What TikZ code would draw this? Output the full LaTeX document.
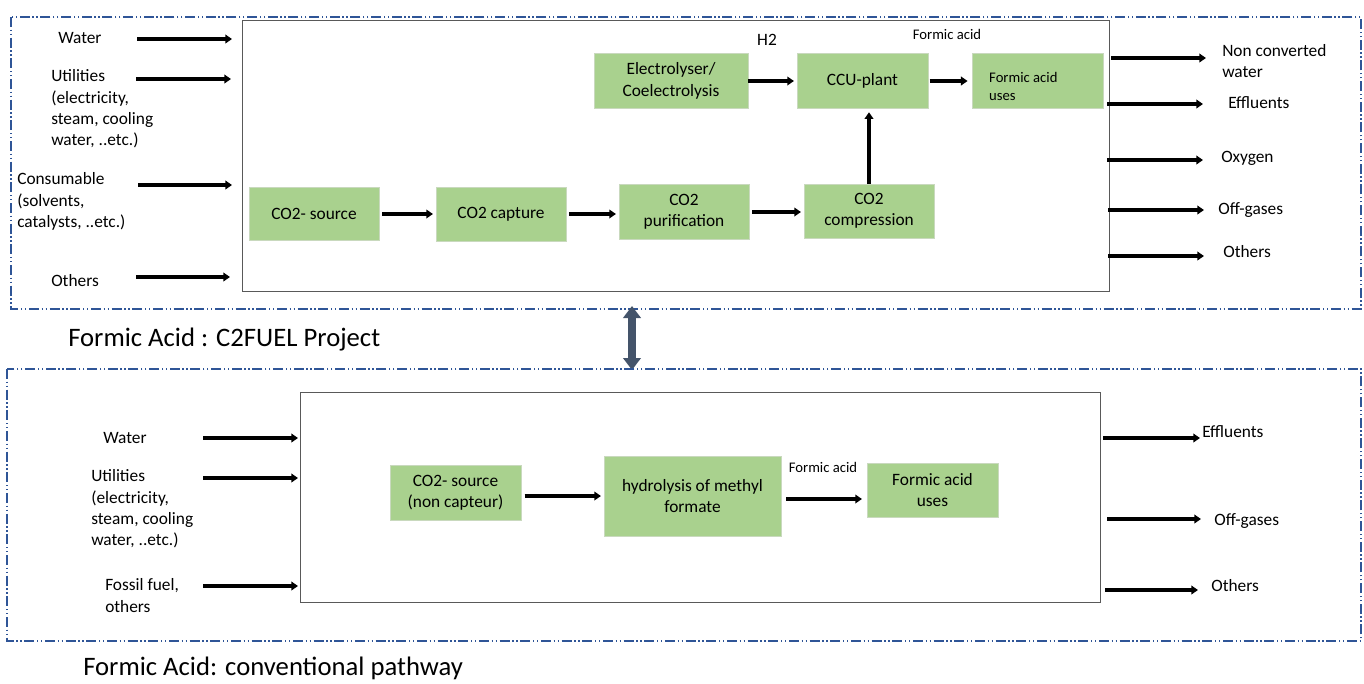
\documentclass[tikz,border=0pt]{standalone}
\usepackage{fontspec}
\setmainfont{Carlito}
\usetikzlibrary{arrows.meta}
\definecolor{frameblue}{HTML}{2F5597}
\definecolor{boxgreen}{HTML}{A9D18E}
\definecolor{boxedge}{HTML}{C9D9BE}
\definecolor{plantgray}{HTML}{595959}
\definecolor{slateblue}{HTML}{44546A}
\begin{document}
\begin{tikzpicture}[x=0.75pt,y=-0.75pt,
  lbl/.style={font=\fontsize{13}{16}\selectfont, align=left, inner sep=0pt},
  small/.style={font=\fontsize{11}{13}\selectfont, inner sep=0pt},
  title/.style={font=\fontsize{20}{24}\selectfont, inner sep=0pt, anchor=west},
  gbox/.style={fill=boxgreen, draw=boxedge, line width=0.6pt, align=center,
    inner sep=0pt, font=\fontsize{13}{16}\selectfont},
  flow/.style={line width=2.6pt, -{Triangle[length=5pt,width=6.5pt]}},
  frame/.style={draw=frameblue, line width=0.8pt,
    dash pattern=on 7.5pt off 2pt on 1pt off 2pt on 1pt off 2pt},
  plant/.style={draw=plantgray, line width=0.7pt},
  dbl/.style={draw=slateblue, line width=5.5pt,
    {Triangle[length=9pt,width=13pt]}-{Triangle[length=9pt,width=13pt]}}]
\useasboundingbox (0,0) rectangle (1364,683);

% ---------- TOP ----------
\draw[frame] (11,17) rectangle (1361,309);
\draw[plant] (242,20) rectangle (1109,291);

% inputs
\node[lbl, anchor=west] (tWater) at (58,38) {Water};
\node[lbl, anchor=west] (tUtil) at (51,109) {Utilities\\(electricity,\\steam, cooling\\water, ..etc.)};
\node[lbl, anchor=west] (tCons) at (17,201.5) {Consumable\\(solvents,\\catalysts, ..etc.)};
\node[lbl, anchor=west] (tOth) at (51,281) {Others};
\coordinate (ti1a) at (137,39);  \coordinate (ti1b) at (232,39);
\coordinate (ti2a) at (136,79);  \coordinate (ti2b) at (231,79);
\coordinate (ti3a) at (138,185); \coordinate (ti3b) at (232,185);
\coordinate (ti4a) at (136,277); \coordinate (ti4b) at (230,277);
\draw[flow] (ti1a) -- (ti1b);
\draw[flow] (ti2a) -- (ti2b);
\draw[flow] (ti3a) -- (ti3b);
\draw[flow] (ti4a) -- (ti4b);

% process boxes
\node[gbox, minimum width=97.5pt, minimum height=39.75pt] (src) at (314,214) {CO2- source};
\node[gbox, minimum width=97.5pt, minimum height=40.5pt] (cap) at (501,214) {CO2 capture};
\node[gbox, minimum width=97.5pt, minimum height=41.25pt] (pur) at (684,212) {CO2\\purification};
\node[gbox, minimum width=97.5pt, minimum height=40.5pt] (comp) at (869,211) {CO2\\compression};
\node[gbox, minimum width=115.5pt, minimum height=41.25pt] (ely) at (671,81) {Electrolyser/\\Coelectrolysis};
\node[gbox, minimum width=98.25pt, minimum height=41.25pt] (ccu) at (862.5,81) {CCU-plant};
\node[gbox, minimum width=98.25pt, minimum height=41.25pt] (fau) at (1037.5,81) {};
\node[font=\fontsize{11}{13.5}\selectfont, align=left, inner sep=0pt, anchor=west] (fautxt) at ([xshift=13pt, yshift=-4pt]fau.west) {Formic acid\\uses};

\draw[flow, shorten <=2pt, shorten >=2pt] (src.east) -- (src.east -| cap.west);
\draw[flow, shorten <=2pt, shorten >=2pt] (cap.east) -- (cap.east -| pur.west);
\draw[flow, shorten <=2pt, shorten >=2pt] (pur.east) -- (pur.east -| comp.west);
\draw[flow, shorten >=2.5pt] (comp.north) -- (comp.north |- ccu.south);
\draw[flow, shorten >=2pt] (ely.east) -- (ely.east -| ccu.west);
\draw[flow, shorten <=1pt, shorten >=3pt] (ccu.east) -- (ccu.east -| fau.west);

\node[lbl] (h2) at (767,40) {H2};
\node[small] (falbl1) at (947,34) {Formic acid};

% outputs
\coordinate (to1a) at (1111,58);  \coordinate (to1b) at (1206,58);
\coordinate (to2a) at (1107,104); \coordinate (to2b) at (1203,104);
\coordinate (to3a) at (1107,160); \coordinate (to3b) at (1203,160);
\coordinate (to4a) at (1108,210); \coordinate (to4b) at (1204,210);
\coordinate (to5a) at (1108,256); \coordinate (to5b) at (1204,256);
\draw[flow] (to1a) -- (to1b);
\draw[flow] (to2a) -- (to2b);
\draw[flow] (to3a) -- (to3b);
\draw[flow] (to4a) -- (to4b);
\draw[flow] (to5a) -- (to5b);
\node[lbl, anchor=west] (oNon) at (1222,61) {Non converted\\water};
\node[lbl, anchor=west] (oEff) at (1228,103) {Effluents};
\node[lbl, anchor=west] (oOxy) at (1221,158) {Oxygen};
\node[lbl, anchor=west] (oOff) at (1218,210) {Off-gases};
\node[lbl, anchor=west] (oOth) at (1223,252) {Others};

\node[title] (title1) at (68,340) {Formic Acid : C2FUEL Project};

% double arrow
\coordinate (da1) at (632,306);
\coordinate (da2) at (632,370);
\draw[dbl] (da1) -- (da2);

% ---------- BOTTOM ----------
\draw[frame] (7,369) rectangle (1361,641);
\draw[plant] (300,392) rectangle (1100,602);

\node[lbl, anchor=west] (bWater) at (103,438) {Water};
\node[lbl, anchor=west] (bUtil) at (91,509) {Utilities\\(electricity,\\steam, cooling\\water, ..etc.)};
\node[lbl, anchor=west] (bFos) at (105,595.5) {Fossil fuel,\\others};
\coordinate (bi1a) at (203,438); \coordinate (bi1b) at (298,438);
\coordinate (bi2a) at (203,478); \coordinate (bi2b) at (298,478);
\coordinate (bi3a) at (203,586); \coordinate (bi3b) at (298,586);
\draw[flow] (bi1a) -- (bi1b);
\draw[flow] (bi2a) -- (bi2b);
\draw[flow] (bi3a) -- (bi3b);

\node[gbox, minimum width=98.25pt, minimum height=41.25pt] (bsrc) at (455.5,493) {CO2- source\\(non capteur)};
\node[gbox, minimum width=132.75pt, minimum height=60pt] (hyd) at (692.5,496) {hydrolysis of methyl\\formate};
\node[gbox, minimum width=98.25pt, minimum height=40.5pt] (bfau) at (932.5,490) {Formic acid\\uses};

\draw[flow, shorten <=2.5pt, shorten >=2pt] (bsrc.east |- 0,496) -- (hyd.west |- 0,496);
\draw[flow, shorten <=3.5pt, shorten >=3.5pt] (hyd.east |- 0,499) -- (bfau.west |- 0,499);
\node[small] (falbl2) at (823,467) {Formic acid};

\coordinate (bo1a) at (1103,438); \coordinate (bo1b) at (1200,438);
\coordinate (bo2a) at (1107,519); \coordinate (bo2b) at (1201,519);
\coordinate (bo3a) at (1105,590); \coordinate (bo3b) at (1198,590);
\draw[flow] (bo1a) -- (bo1b);
\draw[flow] (bo2a) -- (bo2b);
\draw[flow] (bo3a) -- (bo3b);
\node[lbl, anchor=west] (bEff) at (1202,432) {Effluents};
\node[lbl, anchor=west] (bOff) at (1214,521) {Off-gases};
\node[lbl, anchor=west] (bOth) at (1211,586) {Others};

\node[title] (title2) at (83,668) {Formic Acid: conventional pathway};
\end{tikzpicture}
\end{document}
